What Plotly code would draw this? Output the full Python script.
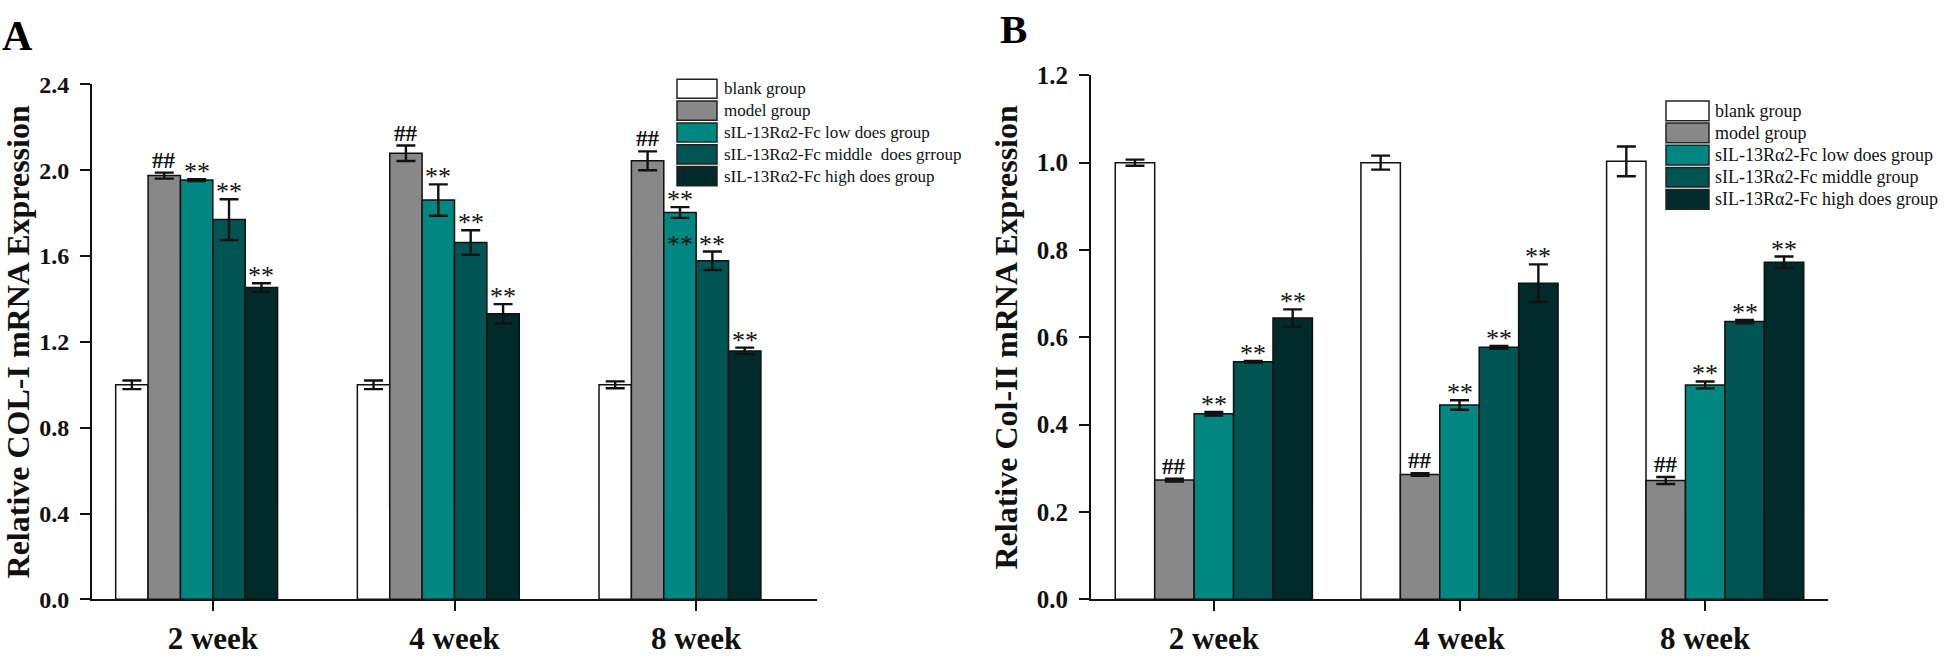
import plotly.graph_objects as go

# ---------------- data ----------------
weeks = ["2 week", "4 week", "8 week"]

groups_A = ["blank group", "model group", "sIL-13R\u03b12-Fc low does group",
            "sIL-13R\u03b12-Fc middle\u00a0 does grroup", "sIL-13R\u03b12-Fc high does group"]
groups_B = ["blank group", "model group", "sIL-13R\u03b12-Fc low does group",
            "sIL-13R\u03b12-Fc middle group", "sIL-13R\u03b12-Fc high does group"]

# Panel A: Relative COL-I mRNA expression (mean, error)
colI_blank = [1.00, 1.00, 1.00]
colI_blank_err = [0.020, 0.020, 0.016]
colI_model = [1.975, 2.079, 2.044]
colI_model_err = [0.014, 0.036, 0.044]
colI_low = [1.954, 1.861, 1.803]
colI_low_err = [0.004, 0.073, 0.025]
colI_mid = [1.770, 1.663, 1.578]
colI_mid_err = [0.095, 0.057, 0.043]
colI_high = [1.453, 1.331, 1.158]
colI_high_err = [0.020, 0.045, 0.015]

# Panel B: Relative Col-II mRNA expression (mean, error)
colII_blank = [1.000, 1.000, 1.003]
colII_blank_err = [0.007, 0.016, 0.034]
colII_model = [0.273, 0.286, 0.272]
colII_model_err = [0.003, 0.003, 0.008]
colII_low = [0.425, 0.445, 0.491]
colII_low_err = [0.004, 0.011, 0.008]
colII_mid = [0.544, 0.577, 0.636]
colII_mid_err = [0.002, 0.003, 0.004]
colII_high = [0.644, 0.724, 0.772]
colII_high_err = [0.020, 0.043, 0.013]

marks = ["", "##", "**", "**", "**"]

A_vals = [colI_blank, colI_model, colI_low, colI_mid, colI_high]
A_errs = [colI_blank_err, colI_model_err, colI_low_err, colI_mid_err, colI_high_err]
B_vals = [colII_blank, colII_model, colII_low, colII_mid, colII_high]
B_errs = [colII_blank_err, colII_model_err, colII_low_err, colII_mid_err, colII_high_err]

# ---------------- style ----------------
colors = ["#ffffff", "#888888", "#008782", "#005553", "#002b2a"]
SERIF = "Liberation Serif"
W, H = 1946, 656


def px_x(p):
    return p / W


def px_y(p):
    return 1 - p / H


fig = go.Figure()

panels = [
    dict(vals=A_vals, errs=A_errs, xa="x", ya="y", w=0.134, shift=-0.5, cap=9.5),
    dict(vals=B_vals, errs=B_errs, xa="x2", ya="y2", w=0.1605, shift=0.0, cap=9.5),
]

for p in panels:
    w = p["w"]
    for i in range(5):
        fig.add_trace(go.Bar(
            x=weeks, y=p["vals"][i],
            width=w, offset=(-2.5 + p["shift"] + i) * w,
            marker=dict(color=colors[i], line=dict(color="#111111", width=1.5)),
            error_y=dict(type="data", array=p["errs"][i], visible=True,
                         color="#111111", thickness=2.4, width=p["cap"]),
            xaxis=p["xa"], yaxis=p["ya"], showlegend=False,
        ))

annotations = []
# significance marks
for p in panels:
    w = p["w"]
    for i in range(5):
        if not marks[i]:
            continue
        for j in range(3):
            top = p["vals"][i][j] + p["errs"][i][j]
            xc = j + (-2.5 + p["shift"] + i + 0.5) * w
            is_hash = marks[i] == "##"
            annotations.append(dict(
                x=xc, y=top, xref=p["xa"], yref=p["ya"], text=marks[i],
                showarrow=False, yanchor="bottom",
                yshift=-2 if is_hash else -9,
                font=dict(family=SERIF, size=23 if is_hash else 26,
                          color="#111111", weight="bold" if is_hash else "normal"),
            ))

# extra "**" drawn inside the 8-week low-dose bar (panel A), level with the middle-dose mark
pa = panels[0]
annotations.append(dict(
    x=2 + (-2.5 + pa["shift"] + 2 + 0.5) * pa["w"],
    y=pa["vals"][3][2] + pa["errs"][3][2], xref="x", yref="y", text="**",
    showarrow=False, yanchor="bottom", yshift=-9,
    font=dict(family=SERIF, size=26, color="#111111"),
))

# panel letters
annotations.append(dict(x=px_x(0), y=px_y(24), xref="paper", yref="paper", text="<b>A</b>",
                        showarrow=False, xanchor="left", yanchor="middle",
                        font=dict(family=SERIF, size=42, color="#000000")))
annotations.append(dict(x=px_x(998), y=px_y(17), xref="paper", yref="paper", text="<b>B</b>",
                        showarrow=False, xanchor="left", yanchor="middle",
                        font=dict(family=SERIF, size=41, color="#000000")))

# manual legends
shapes = []
legend_specs = [
    dict(labels=groups_A, x0=677, x1=717, y0=79, pitch=22.8, bh=20, tx=722, fs=17),
    dict(labels=groups_B, x0=1666, x1=1709, y0=102, pitch=23.1, bh=20.5, tx=1713, fs=18),
]
for L in legend_specs:
    for i, lab in enumerate(L["labels"]):
        cy = L["y0"] + i * L["pitch"]
        shapes.append(dict(type="rect", xref="paper", yref="paper",
                           x0=px_x(L["x0"]), x1=px_x(L["x1"]),
                           y0=px_y(cy - L["bh"] / 2), y1=px_y(cy + L["bh"] / 2),
                           fillcolor=colors[i], line=dict(color="#222222", width=1.5)))
        annotations.append(dict(x=px_x(L["tx"]), y=px_y(cy), xref="paper", yref="paper",
                                text=lab, showarrow=False, xanchor="left", yanchor="middle",
                                font=dict(family=SERIF, size=L["fs"], color="#111111")))

axis_common = dict(showline=True, linecolor="#111111", linewidth=2, showgrid=False,
                   zeroline=False, ticks="outside", ticklen=10, tickwidth=2,
                   tickcolor="#111111")

fig.update_layout(
    width=W, height=H, margin=dict(l=0, r=0, t=0, b=0),
    paper_bgcolor="white", plot_bgcolor="white",
    barmode="overlay",
    font=dict(family=SERIF, color="#111111"),
    xaxis=dict(domain=[px_x(92), px_x(817)], anchor="y", type="category",
               range=[-0.5, 2.5],
               tickfont=dict(family=SERIF, size=31, weight="bold"),
               ticklabelstandoff=0, **axis_common),
    yaxis=dict(domain=[px_y(611.5), px_y(74.5)], anchor="x", range=[0, 2.4], dtick=0.4,
               tick0=0, tickformat=".1f",
               tickfont=dict(family=SERIF, size=24, weight="bold"),
               ticklabelstandoff=6,
               title=dict(text="Relative COL-I mRNA Expression", standoff=10,
                          font=dict(family=SERIF, size=32, weight="bold")),
               **axis_common),
    xaxis2=dict(domain=[px_x(1091), px_x(1828)], anchor="y2", type="category",
                range=[-0.5, 2.5],
                tickfont=dict(family=SERIF, size=31, weight="bold"),
                ticklabelstandoff=0, **axis_common),
    yaxis2=dict(domain=[px_y(611.5), px_y(65)], anchor="x2", range=[0, 1.2], dtick=0.2,
                tick0=0, tickformat=".1f",
                tickfont=dict(family=SERIF, size=25, weight="bold"),
                ticklabelstandoff=6,
                title=dict(text="Relative Col-II mRNA Expression", standoff=10,
                           font=dict(family=SERIF, size=32, weight="bold")),
                **axis_common),
    annotations=annotations,
    shapes=shapes,
)

fig.write_html("out.html", config={"displayModeBar": False},
               post_script="document.body.style.margin='0';document.body.style.padding='0';")
